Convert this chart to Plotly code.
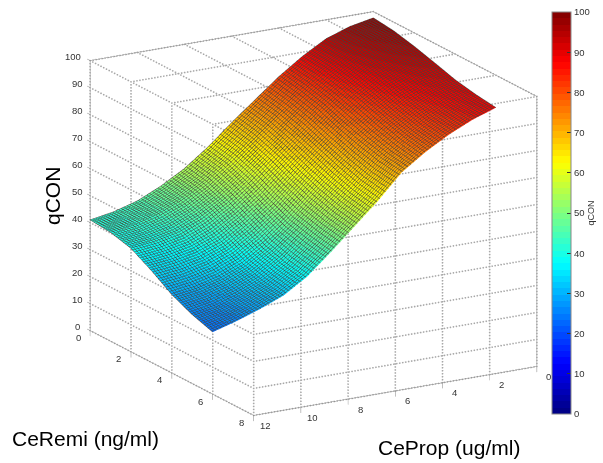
import plotly.graph_objects as go

ce_remi = [0, 1, 2, 3, 4, 5, 6]
ce_prop = [0, 1, 2, 3, 4, 5, 6, 7, 8, 9, 10, 11, 12]
q_con = [
    [97.7, 96.0, 93.0, 88.0, 82.0, 75.0, 68.0, 60.5, 54.0, 49.0, 45.0, 42.5, 41.0],
    [96.8, 95.2, 92.0, 87.0, 80.5, 73.5, 66.3, 59.0, 52.5, 47.5, 44.0, 41.5, 40.3],
    [95.0, 93.2, 90.0, 85.0, 78.5, 71.0, 63.5, 56.0, 49.5, 44.5, 41.0, 39.2, 38.3],
    [92.8, 90.8, 87.5, 82.5, 75.5, 68.0, 60.0, 52.0, 45.5, 40.0, 36.8, 35.0, 34.0],
    [90.5, 88.3, 84.8, 79.8, 73.0, 65.0, 56.8, 48.5, 41.5, 36.0, 32.5, 30.2, 29.0],
    [89.0, 86.2, 82.5, 77.5, 71.0, 62.5, 54.5, 46.5, 39.0, 33.5, 30.0, 27.2, 25.5],
    [88.0, 85.0, 81.0, 76.0, 70.0, 61.0, 53.0, 45.0, 37.5, 32.0, 28.5, 25.5, 23.0],
]
remi_ticks = [0, 2, 4, 6, 8]
prop_ticks = [0, 2, 4, 6, 8, 10, 12]
qcon_ticks = [0, 10, 20, 30, 40, 50, 60, 70, 80, 90, 100]

W, H = 603, 463
FONT = "Liberation Sans"
TICK = "#333333"
REMI_MAX, PROP_MAX, Q_MAX = 8, 12, 100


def px(x):
    return x / W


def py(y):
    return 1 - y / H


def jet_rgb(t):
    def ch(v):
        return max(0.0, min(1.0, 1.5 - abs(4 * t - v)))
    return "rgb(%d,%d,%d)" % (255 * ch(3), 255 * ch(2), 255 * ch(1))


N = 64
jet = []
for i in range(N):
    c = jet_rgb((i + 0.5) / N)
    jet.append([i / N, c])
    jet.append([(i + 1) / N, c])

surface = go.Surface(
    x=ce_remi, y=ce_prop, z=list(map(list, zip(*q_con))),
    colorscale=jet, cmin=0, cmax=100,
    lighting=dict(ambient=1, diffuse=0, specular=0, roughness=1, fresnel=0),
    contours=dict(
        x=dict(show=True, start=0, end=6, size=0.09, color="rgb(70,65,60)", width=1),
        y=dict(show=True, start=0, end=12, size=0.12, color="rgb(70,65,60)", width=1),
        z=dict(show=False),
    ),
    hoverinfo="skip",
    colorbar=dict(
        thickness=19, thicknessmode="pixels", len=402, lenmode="pixels",
        x=px(552), xanchor="left", y=py(12), yanchor="top", xpad=0, ypad=0,
        tickvals=qcon_ticks, ticks="inside", ticklen=4, tickcolor="#333333",
        tickfont=dict(family=FONT, size=9.5, color=TICK),
        outlinecolor="#888888", outlinewidth=1,
        title=dict(text="qCON", side="right", font=dict(family=FONT, size=9, color=TICK)),
    ),
)

# dotted grid on the three far faces, built from the tick lists
gx, gy, gz = [], [], []


def dotted(a, b, count):
    for i in range(count + 1):
        t = i / count
        gx.append(a[0] + (b[0] - a[0]) * t)
        gy.append(a[1] + (b[1] - a[1]) * t)
        gz.append(a[2] + (b[2] - a[2]) * t)


for q in qcon_ticks:
    dotted((0, PROP_MAX, q), (REMI_MAX, PROP_MAX, q), 60)
    dotted((REMI_MAX, 0, q), (REMI_MAX, PROP_MAX, q), 95)
for r in remi_ticks:
    dotted((r, PROP_MAX, 0), (r, PROP_MAX, Q_MAX), 90)
    dotted((r, 0, Q_MAX), (r, PROP_MAX, Q_MAX), 95)
for p in prop_ticks:
    dotted((REMI_MAX, p, 0), (REMI_MAX, p, Q_MAX), 90)
    dotted((0, p, Q_MAX), (REMI_MAX, p, Q_MAX), 60)

grid = go.Scatter3d(
    x=gx, y=gy, z=gz, mode="markers", hoverinfo="skip", showlegend=False,
    marker=dict(color="#a8a8a8", size=1, line=dict(width=0)),
)


def axis(rng, ticks):
    return dict(
        range=rng, tickvals=ticks, title=dict(text=""), autorange=False,
        showticklabels=False, showbackground=False, showgrid=False,
        showline=True, linecolor="#808080", linewidth=1, mirror=True,
        zeroline=False, showspikes=False, ticks="outside", ticklen=6, tickcolor="#808080",
    )


def tick_note(x, y, z, text, dx, dy):
    return dict(x=x, y=y, z=z, text=text, showarrow=False, xanchor="center", yanchor="middle",
                xshift=dx, yshift=dy, font=dict(family=FONT, size=9.5, color=TICK))


notes = []
for r in remi_ticks:
    notes.append(tick_note(r, PROP_MAX, 0, str(r), -12, -7))
for p in prop_ticks:
    notes.append(tick_note(REMI_MAX, p, 0, str(p), 12, -10))
for q in qcon_ticks:
    notes.append(tick_note(0, PROP_MAX, q, str(q), -17 if q == 100 else -13, 4))

d = 1.176
S = 1.532
fig = go.Figure([grid, surface])
fig.update_layout(
    width=W, height=H, autosize=False, paper_bgcolor="white",
    margin=dict(l=0, r=0, t=0, b=0), showlegend=False,
    scene=dict(
        domain=dict(x=[px(24), 1], y=[py(427), 1]),
        xaxis=axis([0, REMI_MAX], remi_ticks),
        yaxis=axis([0, PROP_MAX], prop_ticks),
        zaxis=axis([0, Q_MAX], qcon_ticks),
        aspectmode="manual", aspectratio=dict(x=S, y=S, z=0.865 * S),
        annotations=notes,
        camera=dict(
            projection=dict(type="orthographic"),
            up=dict(x=0, y=0, z=1), center=dict(x=0, y=0, z=0),
            eye=dict(x=-0.826 * d, y=-0.477 * d, z=-0.2995 * d),
        ),
    ),
    annotations=[
        dict(text="qCON", x=px(52), y=py(196), xref="paper", yref="paper", showarrow=False,
             xanchor="center", yanchor="middle", textangle=-90, font=dict(family=FONT, size=21, color="black")),
        dict(text="CeRemi (ng/ml)", x=px(85), y=py(438), xref="paper", yref="paper", showarrow=False,
             xanchor="center", yanchor="middle", font=dict(family=FONT, size=21, color="black")),
        dict(text="CeProp (ug/ml)", x=px(449), y=py(447), xref="paper", yref="paper", showarrow=False,
             xanchor="center", yanchor="middle", font=dict(family=FONT, size=21, color="black")),
    ],
)
fig.write_html("out.html", config={"displayModeBar": False},
               post_script="document.body.style.margin='0';")
